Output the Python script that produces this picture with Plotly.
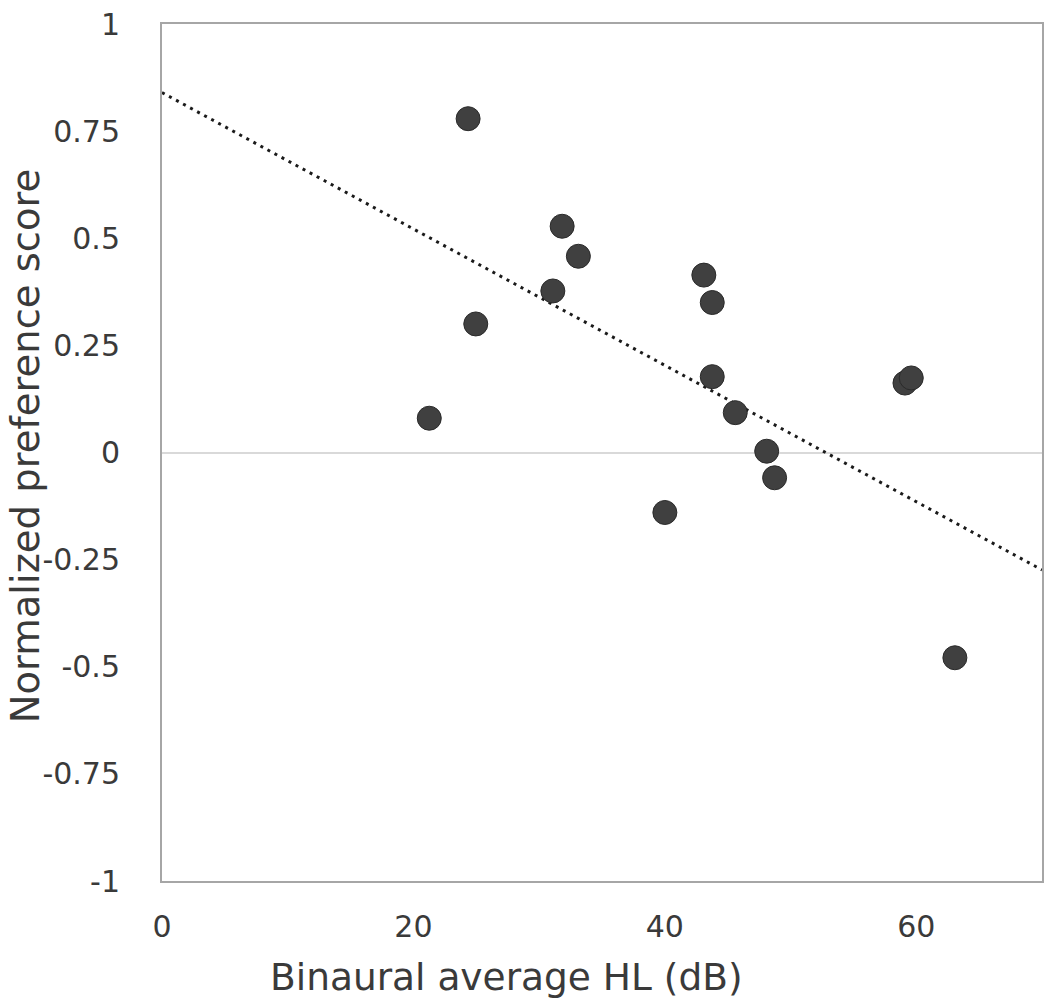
import plotly.graph_objects as go

# Data
hl_db = [24.35, 31.83, 33.12, 31.09, 24.96, 21.26, 43.1, 43.77, 43.77, 45.6,
         48.1, 48.73, 40.0, 59.1, 59.6, 63.07]
pref_score = [0.779, 0.528, 0.458, 0.377, 0.300, 0.080, 0.414, 0.350, 0.177,
              0.093, 0.003, -0.059, -0.140, 0.162, 0.174, -0.479]

trend_x = [0, 70]
trend_y = [0.84, -0.274]

x_ticks = [0, 20, 40, 60]
y_ticks = [-1, -0.75, -0.5, -0.25, 0, 0.25, 0.5, 0.75, 1]
y_ticklabels = ["-1", "-0.75", "-0.5", "-0.25", "0", "0.25", "0.5", "0.75", "1"]

x_title = "Binaural average HL (dB)"
y_title = "Normalized preference score"

FONT = "DejaVu Sans"
TXT = "#3a3a3a"
W, H = 1050, 1004
ML, MR, MT, MB = 162, 6, 18, 123
PW, PH = W - ML - MR, H - MT - MB

fig = go.Figure()
fig.add_trace(go.Scatter(
    x=trend_x, y=trend_y, mode="lines",
    line=dict(color="#1a1a1a", width=3, dash="3px,5px"),
    hoverinfo="skip", showlegend=False,
))
fig.add_trace(go.Scatter(
    x=hl_db, y=pref_score, mode="markers",
    marker=dict(size=24, color="#404040", line=dict(color="#2a2a2a", width=1)),
    showlegend=False,
))

fig.update_layout(
    width=W, height=H,
    margin=dict(l=ML, r=MR, t=MT, b=MB),
    paper_bgcolor="white", plot_bgcolor="white",
    font=dict(family=FONT, size=30, color=TXT),
)
fig.update_xaxes(
    range=[0, 70], tickvals=x_ticks, showgrid=False, zeroline=False,
    showline=True, mirror=True, linecolor="#a6a6a6", linewidth=2,
    ticks="", ticklabelstandoff=18,
    tickfont=dict(family=FONT, size=30, color=TXT),
)
fig.update_yaxes(
    range=[-1, 1], tickvals=y_ticks, ticktext=y_ticklabels, showgrid=False,
    zeroline=True, zerolinecolor="#d9d9d9", zerolinewidth=2,
    showline=True, mirror=True, linecolor="#a6a6a6", linewidth=2,
    ticks="", ticklabelstandoff=34, ticklabeloverflow="allow",
    tickfont=dict(family=FONT, size=30, color=TXT),
)

# axis titles as annotations (placed in pixel terms relative to the plot area)
fig.add_annotation(
    text=x_title, xref="paper", yref="paper",
    x=(507 - ML) / PW, y=(H - MB - 978) / PH,
    xanchor="center", yanchor="middle", showarrow=False,
    font=dict(family=FONT, size=37.5, color=TXT),
)
fig.add_annotation(
    text=y_title, xref="paper", yref="paper",
    x=(25 - ML) / PW, y=(H - MB - 443) / PH,
    xanchor="center", yanchor="middle", showarrow=False, textangle=-90,
    font=dict(family=FONT, size=38.5, color=TXT),
)

fig.write_html("out.html", config={"displayModeBar": False},
               post_script="document.body.style.margin='0px';")
